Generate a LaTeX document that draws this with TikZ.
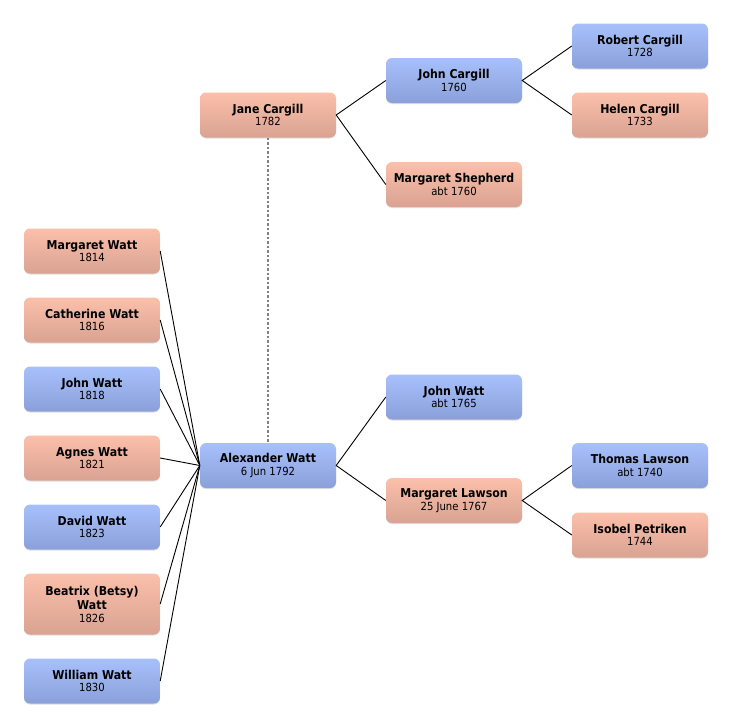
\documentclass[tikz,border=0pt]{standalone}
\usepackage{fontspec}
\setmainfont{DejaVu Sans Condensed}
\usetikzlibrary{shadows}
\definecolor{pinkT}{RGB}{251,192,170}
\definecolor{pinkB}{RGB}{217,162,146}
\definecolor{blueT}{RGB}{167,192,251}
\definecolor{blueB}{RGB}{139,160,218}
\newcommand\nm[1]{{\fontsize{12.2}{13}\selectfont\bfseries #1}}
\begin{document}
\begin{tikzpicture}[x=1pt,y=-1pt,
 person/.style={rounded corners=6pt, minimum width=136pt, minimum height=45pt,
   inner sep=0pt, align=center, font=\fontsize{11.2}{12.5}\selectfont,
   drop shadow={shadow xshift=0pt,shadow yshift=-1pt,opacity=0.25}},
 female/.style={person, top color=pinkT, bottom color=pinkB},
 male/.style={person, top color=blueT, bottom color=blueB},
 link/.style={black, line width=0.9pt},
 spouse/.style={black!50, line width=1.3pt, dash pattern=on 2.5pt off 2pt}]
\useasboundingbox (0,0) rectangle (732,728);
\node[female] (mw) at (92,251) {\nm{Margaret Watt}\\1814};
\node[female] (cw) at (92,320) {\nm{Catherine Watt}\\1816};
\node[male] (jwc) at (92,389) {\nm{John Watt}\\1818};
\node[female] (agw) at (92,458) {\nm{Agnes Watt}\\1821};
\node[male] (dw) at (92,527) {\nm{David Watt}\\1823};
\node[female, minimum height=61pt] (bw) at (92,604) {\nm{Beatrix (Betsy)}\\[1.5pt]\nm{Watt}\\[0.5pt]1826};
\node[male] (ww) at (92,681) {\nm{William Watt}\\1830};
\node[male] (alex) at (268,465.5) {\nm{Alexander Watt}\\6 Jun 1792};
\node[female] (jane) at (268,115) {\nm{Jane Cargill}\\1782};
\node[male] (jc) at (454,80.5) {\nm{John Cargill}\\1760};
\node[female] (ms) at (454,184.5) {\nm{Margaret Shepherd}\\abt 1760};
\node[male] (rc) at (640,46) {\nm{Robert Cargill}\\1728};
\node[female] (hc) at (640,115) {\nm{Helen Cargill}\\1733};
\node[male] (jw) at (454,397) {\nm{John Watt}\\abt 1765};
\node[female] (ml) at (454,500.5) {\nm{Margaret Lawson}\\25 June 1767};
\node[male] (tl) at (640,465.5) {\nm{Thomas Lawson}\\abt 1740};
\node[female] (ip) at (640,535) {\nm{Isobel Petriken}\\1744};
\foreach \c in {mw,cw,jwc,agw,dw,bw,ww}{\draw[link] (\c.east) -- (alex.west);}
\draw[spouse] (jane.south) -- (alex.north);
\draw[link] (jc.west) -- (jane.east) -- (ms.west);
\draw[link] (rc.west) -- (jc.east) -- (hc.west);
\draw[link] (jw.west) -- (alex.east) -- (ml.west);
\draw[link] (tl.west) -- (ml.east) -- (ip.west);
\end{tikzpicture}
\end{document}
